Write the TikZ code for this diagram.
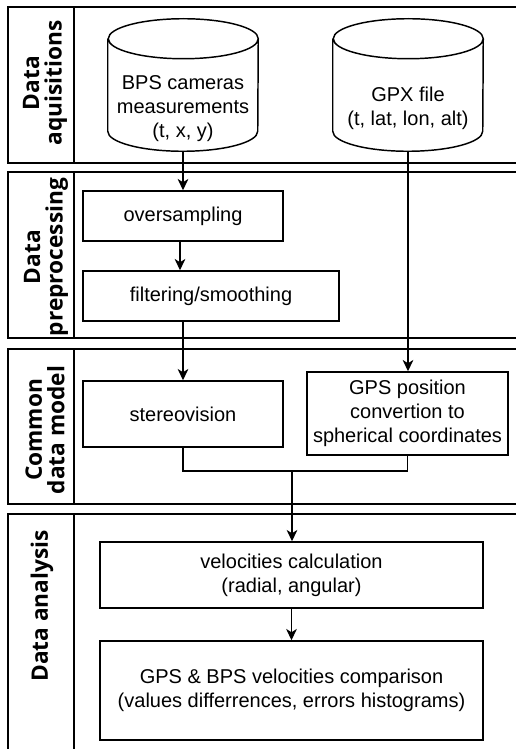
\documentclass[tikz,border=0pt]{standalone}
\usepackage{fontspec}
\setmainfont{Liberation Sans}
\newfontfamily\lanefont{Open Sans}
\usepackage{tikz}
\usetikzlibrary{arrows.meta,positioning}

\tikzset{
  stage/.style={draw, line width=1.1pt, align=center, inner sep=0pt,
    font=\fontsize{15}{18}\selectfont},
  store/.style={minimum width=112.5pt, minimum height=99pt, inner sep=0pt},
  storetext/.style={align=center, inner sep=0pt, font=\fontsize{15}{18}\selectfont},
  lanetitle/.style={rotate=90, align=center, inner sep=0pt,
    font=\lanefont\bfseries\fontsize{17}{17}\selectfont},
  lane/.style={line width=1.1pt},
  flow/.style={line width=1.1pt, -{Stealth[length=8.5pt,width=8pt,inset=2.5pt]}},
}

\begin{document}
\begin{tikzpicture}[x=0.75pt, y=-0.75pt]
  \useasboundingbox (0,0) rectangle (516,749);

  % swimlanes
  \draw[lane] (516,7) -- (8,7) -- (8,163) -- (516,163);
  \draw[lane] (74,7) -- (74,163);
  \draw[lane] (516,172) -- (8,172) -- (8,338) -- (516,338);
  \draw[lane] (74,172) -- (74,338);
  \draw[lane] (516,349) -- (8,349) -- (8,504) -- (516,504);
  \draw[lane] (74,349) -- (74,504);
  \draw[lane] (516,514) -- (8,514) -- (8,749);
  \draw[lane] (74,514) -- (74,749);

  \node[lanetitle] (acq) at (45,83) {Data\\aquisitions};
  \node[lanetitle] (prep) at (46,257) {Data\\preprocessing};
  \node[lanetitle] (model) at (45,430) {Common\\data model};
  \node[lanetitle] (anal) at (42,606) {Data analysis};

  % data sources
  \node[store] (bps) at (183,85) {};
  \node[store] (gpx) at (408,85) {};
  \foreach \c in {bps,gpx}
    \draw[lane] ([yshift=-15pt]\c.north west) -- ([yshift=15pt]\c.south west)
      arc[start angle=180, end angle=360, x radius=56.25pt, y radius=15pt]
      -- ([yshift=-15pt]\c.north east)
      arc[start angle=0, end angle=180, x radius=56.25pt, y radius=15pt]
      arc[start angle=180, end angle=360, x radius=56.25pt, y radius=15pt];
  \node[storetext] (bpstxt) at (183,109) {BPS cameras\\measurements\\(t, x, y)};
  \node[storetext] (gpxtxt) at (408,108) {GPX file\\(t, lat, lon, alt)};

  % processing steps
  \node[stage, minimum width=150pt, minimum height=37.5pt] (overs) at (183,216) {oversampling};
  \node[stage, minimum width=192pt, minimum height=37.5pt] (filt) at (211,296) {filtering/smoothing};
  \node[stage, minimum width=150pt, minimum height=49.5pt] (stereo) at (183,414) {stereovision};
  \node[stage, minimum width=150.75pt, minimum height=62.25pt] (gpsconv) at (407.5,413.5)
    {GPS position\\convertion to\\spherical coordinates};
  \node[stage, minimum width=287.25pt, minimum height=49.5pt] (velo) at (291.5,575)
    {velocities calculation\\(radial, angular)};
  \node[stage, minimum width=287.25pt, minimum height=74.25pt] (comp) at (291.5,690.5)
    {GPS \& BPS velocities comparison\\(values differrences, errors histograms)};

  \coordinate (join) at (292,471);

  % connectors
  \draw[flow] (bps.south) -- (overs.north);
  \draw[flow] ([xshift=-2.25pt]overs.south) -- ([xshift=-2.25pt]overs.south |- filt.north);
  \draw[flow] (stereo.north |- filt.south) -- (stereo.north);
  \draw[flow] (gpx.south) -- (gpx.south |- gpsconv.north);
  \draw[lane] (stereo.south) |- (join) -| (gpsconv.south);
  \draw[flow] (join) -- (join |- velo.north);
  \draw[flow] (velo.south) -- (velo.south |- comp.north);
\end{tikzpicture}
\end{document}
